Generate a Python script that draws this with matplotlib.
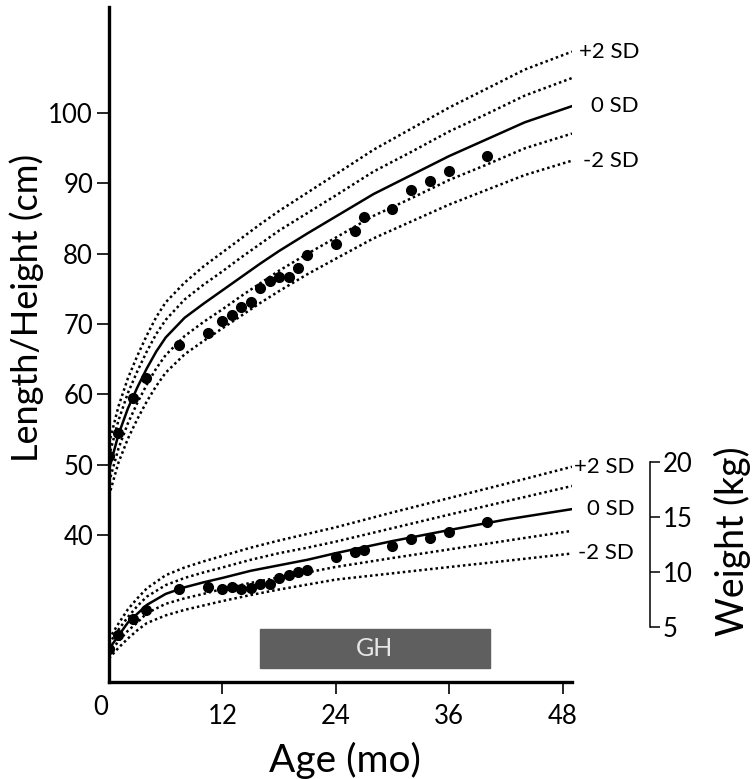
import numpy as np
import matplotlib
matplotlib.use('Agg')
import matplotlib.pyplot as plt

plt.rcParams['font.family'] = ['Lato', 'DejaVu Sans']

# reference curves, length/height (cm)
age_ref = [0, 1, 2, 3, 4, 5, 6, 8, 10, 12, 14, 16, 18, 21, 24, 28, 32, 36, 40, 44, 49]
ht_p2 = [53.0, 58.3, 62.3, 65.5, 68.4, 71.0, 73.1, 75.9, 78.2, 80.2, 82.2, 84.2, 86.1, 88.7, 91.3, 94.8, 97.8, 100.8, 103.5, 106.2, 108.75]
ht_p1 = [51.2, 56.3, 60.2, 63.3, 66.1, 68.6, 70.6, 73.5, 75.6, 77.5, 79.5, 81.4, 83.3, 85.8, 88.3, 91.7, 94.5, 97.4, 99.9, 102.5, 105.0]
ht_0 = [49.3, 54.3, 58.0, 61.0, 63.7, 66.1, 68.1, 70.9, 72.9, 74.8, 76.7, 78.6, 80.4, 82.9, 85.3, 88.5, 91.2, 93.9, 96.3, 98.7, 101.0]
ht_m1 = [47.5, 52.3, 55.9, 58.8, 61.4, 63.7, 65.6, 68.3, 70.3, 72.1, 74.0, 75.8, 77.6, 80.0, 82.3, 85.4, 87.9, 90.5, 92.7, 95.0, 97.1]
ht_m2 = [45.6, 50.3, 53.7, 56.5, 59.0, 61.2, 63.1, 65.7, 67.6, 69.4, 71.2, 73.0, 74.7, 77.1, 79.3, 82.2, 84.6, 87.0, 89.1, 91.2, 93.25]

# reference curves, weight (kg)
age_wt = [0, 1, 2, 3, 4, 6, 8, 10, 12, 15, 18, 21, 24, 30, 36, 42, 49]
wt_p2 = [3.9, 5.3, 6.6, 7.6, 8.5, 9.7, 10.4, 10.95, 11.45, 12.2, 12.85, 13.45, 14.05, 15.4, 16.7, 18.0, 19.55]
wt_p1 = [3.45, 4.75, 5.9, 6.9, 7.75, 8.8, 9.45, 9.95, 10.4, 11.1, 11.7, 12.2, 12.75, 13.97, 15.2, 16.4, 17.8]
wt_0 = [3.0, 4.2, 5.4, 6.2, 7.0, 8.0, 8.6, 9.05, 9.45, 10.1, 10.6, 11.1, 11.7, 12.8, 13.8, 14.75, 15.7]
wt_m1 = [2.6, 3.7, 4.65, 5.4, 6.25, 7.1, 7.6, 8.0, 8.45, 9.0, 9.5, 9.95, 10.45, 11.26, 12.04, 12.82, 13.73]
wt_m2 = [2.15, 3.1, 3.95, 4.7, 5.35, 6.05, 6.55, 6.95, 7.35, 7.9, 8.4, 8.85, 9.3, 9.87, 10.44, 11.0, 11.67]

# patient measurements
age_pt = [0, 1, 2.5, 3.9, 7.4, 10.5, 12, 13, 14, 15, 16, 17, 18, 19, 20, 21, 24, 26, 27, 30, 32, 34, 36, 40]
ht_pt = [51.2, 54.5, 59.5, 62.4, 67.0, 68.7, 70.4, 71.3, 72.5, 73.1, 75.1, 76.2, 76.7, 76.7, 78.0, 79.8, 81.4, 83.3, 85.3, 86.4, 89.1, 90.4, 91.8, 93.9]
wt_pt = [3.04, 4.25, 5.76, 6.52, 8.49, 8.64, 8.49, 8.64, 8.49, 8.55, 8.88, 8.88, 9.4, 9.7, 10.0, 10.2, 11.36, 11.8, 11.97, 12.34, 13.0, 13.06, 13.64, 14.55]

gh_start, gh_end = 16.0, 40.3
sd_labels = ['+2 SD', '0 SD', '-2 SD']

fig = plt.figure(figsize=(7.56, 7.79), dpi=100)
ax = fig.add_axes([109/756, 1-682/779, 463/756, 675/779])
ax2 = ax.twinx()

dot = (0, (1, 1.2))
lw = 1.8
for ys, st in [(ht_p2, dot), (ht_p1, dot), (ht_0, '-'), (ht_m1, dot), (ht_m2, dot)]:
    ax.plot(age_ref, ys, color='black', lw=lw, linestyle=st)
ax.plot(age_pt, ht_pt, 'o', color='black', ms=7, zorder=5)

for ys, st in [(wt_p2, dot), (wt_p1, dot), (wt_0, '-'), (wt_m1, dot), (wt_m2, dot)]:
    ax2.plot(age_wt, ys, color='black', lw=lw, linestyle=st)
ax2.plot(age_pt, wt_pt, 'o', color='black', ms=7, zorder=5)

ax.set_xlim(0, 49)
ax.set_ylim(19.1, 115.1)
ax2.set_ylim(0, 61.3)

# GH bar
ax.add_patch(plt.Rectangle((gh_start, 21.1), gh_end - gh_start, 5.5, color='#5f5f5f', zorder=2))
ax.text((gh_start + gh_end) / 2, 23.85, 'GH', color='#e6e6e6', fontsize=18, ha='center', va='center')

# SD labels
for lab, y in zip(sd_labels, [ht_p2[-1], ht_0[-1], ht_m2[-1]]):
    ax.text(56.1, y, lab, fontsize=16, ha='right', va='center', clip_on=False)
for lab, y in zip(sd_labels, [wt_p2[-1], wt_0[-1], wt_m2[-1]]):
    ax2.text(55.6, y, lab, fontsize=16, ha='right', va='center', clip_on=False)

# spines
for s in ['top', 'right']:
    ax.spines[s].set_visible(False)
ax.spines['left'].set_linewidth(2.4)
ax.spines['bottom'].set_linewidth(2.4)
for s in ['top', 'left', 'bottom']:
    ax2.spines[s].set_visible(False)
ax2.spines['right'].set_position(('axes', (650 - 109) / 463))
ax2.spines['right'].set_bounds(5, 20)
ax2.spines['right'].set_linewidth(1.1)

ax.set_yticks([40, 50, 60, 70, 80, 90, 100])
ax.tick_params(axis='y', length=8.5, width=1.2, labelsize=18.5, pad=3)
ax.set_xticks([12, 24, 36, 48])
ax.tick_params(axis='x', length=8.5, width=1.2, labelsize=18.5, pad=7)
ax.text(-0.9, -0.038, '0', transform=ax.get_xaxis_transform(), fontsize=18.5, ha='center', va='center')

ax2.set_yticks([5, 10, 15, 20])
ax2.tick_params(axis='y', length=7, width=1.1, labelsize=18.5, pad=2)

fig.text(27/756, 1-308/779, 'Length/Height (cm)', rotation=90, fontsize=26, ha='center', va='center')
fig.text(732/756, 1-541/779, 'Weight (kg)', rotation=90, fontsize=27, ha='center', va='center')
fig.text(345/756, 1-760/779, 'Age (mo)', fontsize=28, ha='center', va='center')

fig.savefig('out.png', dpi=100)
